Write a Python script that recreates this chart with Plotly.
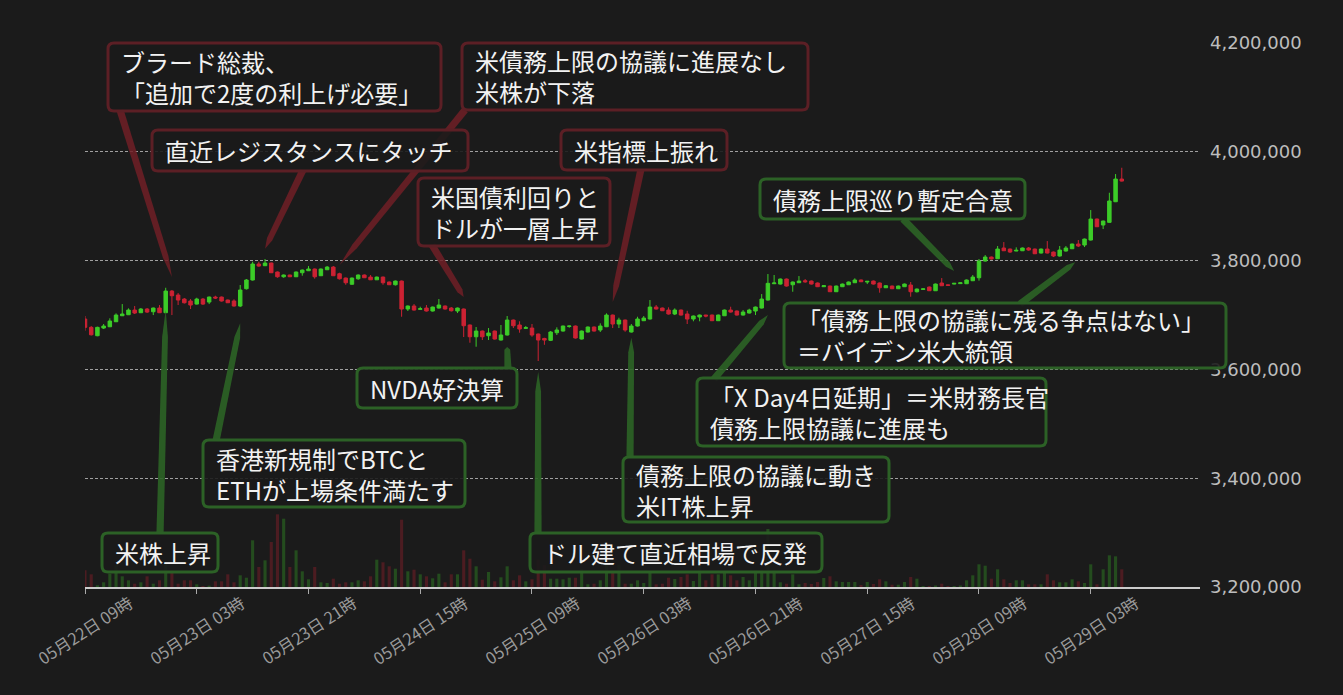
import math
import pandas as pd
import plotly.graph_objects as go

# ---------------- data ----------------
t_start = "2023-05-22 09:00"
times = pd.date_range(start=t_start, periods=168, freq="h")

open_ = [3692600, 3677300, 3661900, 3676000, 3678400, 3687600, 3698600, 3700500, 3709100, 3704200,
         3711000, 3706000, 3712800, 3704200, 3744000, 3736700, 3729300, 3725700, 3720100, 3729300,
         3723800, 3733000, 3733000, 3727500, 3725700, 3716500, 3748300, 3764300, 3793700, 3790600,
         3795500, 3779000, 3770300, 3773500, 3770300, 3777700, 3781400, 3784500, 3772200, 3783200,
         3788100, 3775800, 3767900, 3756500, 3766600, 3773500, 3769700, 3764700, 3769700, 3760600,
         3755600, 3762400, 3711000, 3716500, 3710400, 3712800, 3707300, 3712800, 3716500, 3712800,
         3707300, 3711000, 3681600, 3660000, 3670500, 3661900, 3670500, 3654000, 3663200, 3690700,
         3681600, 3675500, 3676000, 3665000, 3656900, 3653400, 3667400, 3670500, 3678800, 3679700,
         3655800, 3668700, 3677900, 3672400, 3678400, 3699900, 3683400, 3690700, 3668700, 3679700,
         3689500, 3692600, 3714600, 3712800, 3709100, 3701800, 3709100, 3701800, 3692600, 3696300,
         3699900, 3699900, 3689500, 3698600, 3709100, 3707300, 3699900, 3703600, 3707300, 3712800,
         3727500, 3757500, 3756900, 3766100, 3755600, 3759300, 3763000, 3762400, 3758800, 3752000,
         3753200, 3742800, 3752000, 3755600, 3759300, 3764300, 3760600, 3762400, 3758800, 3750100,
         3753200, 3748300, 3752000, 3755100, 3742800, 3747100, 3751400, 3744600, 3758800, 3755400,
         3756900, 3757700, 3757500, 3763000, 3768500, 3799200, 3806500, 3803400, 3823100, 3821200,
         3817600, 3818100, 3823100, 3821200, 3813900, 3821200, 3815700, 3808400, 3817600, 3821800,
         3830400, 3828600, 3837800, 3876400, 3865400, 3870300, 3908200, 3949900]
high = [3698100, 3679700, 3678500, 3683400, 3693900, 3703000, 3720100, 3712200, 3716500, 3712800,
        3712800, 3713700, 3718300, 3750100, 3745900, 3740400, 3731200, 3729300, 3731700, 3731200,
        3733900, 3735400, 3733900, 3728400, 3728800, 3755100, 3766100, 3797900, 3797900, 3802900,
        3796400, 3779900, 3774400, 3774000, 3779900, 3783600, 3790000, 3785400, 3785400, 3790000,
        3790000, 3777700, 3768900, 3768900, 3774400, 3774400, 3773500, 3770700, 3770700, 3761500,
        3763300, 3763300, 3717400, 3720100, 3715200, 3718300, 3715500, 3729300, 3717400, 3714600,
        3713700, 3711900, 3682500, 3677900, 3671400, 3676000, 3671400, 3681600, 3698100, 3691600,
        3688400, 3679700, 3683400, 3665900, 3658100, 3670500, 3677300, 3680600, 3680600, 3680600,
        3671400, 3678800, 3678800, 3684700, 3703000, 3700800, 3695000, 3691600, 3683400, 3696800,
        3698100, 3727500, 3718300, 3713700, 3714100, 3712200, 3710100, 3707800, 3699000, 3700800,
        3700400, 3700800, 3700800, 3710000, 3715200, 3708200, 3709100, 3711500, 3715500, 3738500,
        3775300, 3773500, 3767000, 3767000, 3761500, 3771600, 3766100, 3763300, 3759700, 3754700,
        3754100, 3754100, 3757800, 3761500, 3767400, 3765200, 3762400, 3763300, 3759700, 3754700,
        3754100, 3754100, 3757800, 3760600, 3748700, 3748700, 3752300, 3757800, 3767900, 3755800,
        3758800, 3759700, 3765200, 3773500, 3802900, 3810200, 3807400, 3826800, 3834100, 3822200,
        3824400, 3824000, 3824900, 3822200, 3822200, 3835900, 3816600, 3826800, 3826800, 3831300,
        3837800, 3840500, 3892900, 3877300, 3873600, 3924700, 3959100, 3970700]
low = [3671100, 3662200, 3661000, 3674200, 3677800, 3687100, 3698100, 3699900, 3701800, 3703600,
       3703600, 3699900, 3703600, 3703600, 3699900, 3718300, 3721100, 3711000, 3719200, 3718300,
       3720100, 3729300, 3724700, 3722000, 3715500, 3714600, 3746800, 3763300, 3788700, 3790000,
       3777100, 3768500, 3768500, 3769700, 3769700, 3772200, 3780800, 3766800, 3771600, 3782600,
       3771600, 3765200, 3755600, 3755600, 3764700, 3767900, 3764300, 3764300, 3755600, 3755100,
       3754200, 3696800, 3707300, 3708200, 3710000, 3706400, 3706400, 3711900, 3710100, 3706400,
       3703600, 3659500, 3649000, 3641700, 3654000, 3654000, 3654900, 3653100, 3662300, 3676000,
       3667400, 3674200, 3660000, 3615400, 3645200, 3652100, 3663200, 3669600, 3676600, 3656700,
       3654900, 3667800, 3669600, 3668700, 3677800, 3676000, 3676000, 3669200, 3667800, 3678800,
       3688900, 3691600, 3710100, 3707300, 3700800, 3699900, 3699000, 3683400, 3688400, 3688400,
       3695700, 3688900, 3688900, 3698100, 3704500, 3699000, 3699000, 3702700, 3699900, 3711900,
       3726600, 3756900, 3756000, 3752300, 3742800, 3758800, 3759300, 3756000, 3751400, 3751400,
       3742200, 3742200, 3751400, 3755100, 3758800, 3760600, 3756900, 3756000, 3741000, 3749600,
       3747700, 3747700, 3751400, 3733600, 3741300, 3746800, 3744100, 3744100, 3753200, 3754100,
       3756400, 3757300, 3756900, 3762400, 3763100, 3798300, 3801900, 3802900, 3817600, 3813900,
       3817200, 3817600, 3818100, 3812000, 3813000, 3813000, 3806500, 3807400, 3816600, 3821200,
       3824900, 3824900, 3836900, 3861700, 3858000, 3869600, 3907600, 3945300]
close = [3677300, 3663700, 3677300, 3679700, 3688900, 3699900, 3701800, 3709100, 3703600, 3711000,
         3705400, 3712800, 3704200, 3744000, 3735400, 3727500, 3722500, 3718300, 3729300, 3720100,
         3733000, 3731200, 3725700, 3722500, 3716500, 3745900, 3764300, 3793700, 3790000, 3795500,
         3777700, 3770300, 3773500, 3770300, 3779000, 3782600, 3784500, 3770300, 3784500, 3788100,
         3772200, 3766600, 3759300, 3767900, 3773500, 3768500, 3764700, 3769700, 3759300, 3755600,
         3762400, 3711000, 3716500, 3709100, 3711500, 3707300, 3714600, 3718300, 3711000, 3707800,
         3712800, 3680300, 3660000, 3670500, 3660000, 3666900, 3655800, 3663200, 3690700, 3680300,
         3674200, 3676600, 3663200, 3654000, 3653900, 3668700, 3672400, 3679700, 3679700, 3657700,
         3670500, 3677900, 3670500, 3679700, 3699900, 3683400, 3690700, 3672400, 3679700, 3692600,
         3694400, 3714600, 3711000, 3707800, 3701800, 3709100, 3699900, 3692600, 3698100, 3699900,
         3698100, 3689500, 3699900, 3709100, 3705400, 3699900, 3705400, 3709100, 3714600, 3729300,
         3758200, 3758800, 3766100, 3753200, 3760600, 3762400, 3761100, 3756900, 3752000, 3753800,
         3742800, 3753200, 3756900, 3760600, 3764300, 3761100, 3761900, 3756900, 3750100, 3753800,
         3748300, 3753200, 3756900, 3742800, 3747700, 3748000, 3744600, 3756900, 3753800, 3754500,
         3758200, 3759100, 3764300, 3769700, 3799100, 3806500, 3802900, 3821200, 3818100, 3815700,
         3818900, 3823100, 3819400, 3812600, 3821200, 3813900, 3808400, 3819400, 3823100, 3830400,
         3826800, 3839600, 3876400, 3862200, 3872700, 3909500, 3949900, 3946200]
volume = [167, 127, 17, 47, 133, 217, 107, 67, 33, 47,
          107, 33, 67, 233, 167, 33, 67, 67, 27, 10,
          13, 57, 57, 127, 47, 117, 93, 467, 200, 267,
          450, 727, 683, 200, 367, 157, 77, 200, 47, 40,
          83, 33, 47, 47, 67, 57, 107, 273, 247, 207,
          183, 673, 157, 173, 127, 107, 87, 133, 47, 127,
          127, 367, 283, 207, 73, 150, 57, 97, 207, 67,
          117, 57, 77, 273, 217, 83, 83, 77, 93, 93,
          177, 27, 33, 67, 223, 157, 223, 33, 33, 67,
          40, 140, 27, 33, 93, 80, 100, 127, 60, 220,
          67, 127, 127, 150, 117, 67, 100, 67, 167, 167,
          580, 167, 47, 33, 127, 27, 40, 30, 50, 90,
          107, 57, 50, 50, 50, 20, 50, 30, 77, 57,
          23, 23, 50, 100, 83, 10, 10, 15, 33, 10,
          10, 15, 67, 117, 227, 213, 83, 177, 77, 40,
          67, 67, 27, 27, 27, 127, 67, 47, 47, 77,
          57, 40, 227, 27, 177, 317, 307, 177]

tick_times = ["2023-05-22 09:00", "2023-05-23 03:00", "2023-05-23 21:00", "2023-05-24 15:00",
              "2023-05-25 09:00", "2023-05-26 03:00", "2023-05-26 21:00", "2023-05-27 15:00",
              "2023-05-28 09:00", "2023-05-29 03:00"]
tick_labels = ["05月22日 09時", "05月23日 03時", "05月23日 21時", "05月24日 15時", "05月25日 09時",
               "05月26日 03時", "05月26日 21時", "05月27日 15時", "05月28日 09時", "05月29日 03時"]
price_ticks = [3200000, 3400000, 3600000, 3800000, 4000000, 4200000]

note_texts = [
    "ブラード総裁、<br>「追加で2度の利上げ必要」",
    "直近レジスタンスにタッチ",
    "米債務上限の協議に進展なし<br>米株が下落",
    "米国債利回りと<br>ドルが一層上昇",
    "米指標上振れ",
    "米株上昇",
    "香港新規制でBTCと<br>ETHが上場条件満たす",
    "NVDA好決算",
    "ドル建て直近相場で反発",
    "債務上限の協議に動き<br>米IT株上昇",
    "「X Day4日延期」＝米財務長官<br>債務上限協議に進展も",
    "「債務上限の協議に残る争点はない」<br>＝バイデン米大統領",
    "債務上限巡り暫定合意",
]
note_kind = ["down", "down", "down", "down", "down", "up", "up", "up", "up", "up", "up", "up", "up"]
note_target_time = ["2023-05-22 23:00", "2023-05-23 14:00", "2023-05-24 02:00", "2023-05-24 22:00",
                    "2023-05-25 22:00", "2023-05-22 22:00", "2023-05-23 10:00", "2023-05-25 05:00",
                    "2023-05-25 10:00", "2023-05-26 01:00", "2023-05-26 23:00", "2023-05-29 00:30",
                    "2023-05-28 05:00"]
note_target_price = [3770000, 3822000, 3792000, 3733000, 3724000, 3709000, 3685000, 3641000,
                     3595000, 3658000, 3700000, 3797000, 3781000]

# ---------------- layout geometry (pixels) ----------------
W, H = 1343, 695
PL, PR, PT, PB = 85, 1200, 43, 587
Y_MIN, Y_MAX = 3200000, 4200000
t0 = pd.Timestamp(t_start)
SPAN_H = 179.6
t_end = t0 + pd.Timedelta(hours=SPAN_H)

# box rectangles (x0, y0, x1, y1) and arrow base points in pixel space
note_boxes = [(108, 43, 441, 111), (152, 130, 468, 171), (462, 43, 808, 110), (418, 178, 610, 246),
              (561, 130, 727, 170), (102, 533, 218, 572), (203, 440, 465, 507), (357, 368, 517, 408),
              (530, 533, 822, 572), (623, 457, 889, 522), (697, 378, 1046, 446), (784, 303, 1226, 368),
              (760, 179, 1025, 219)]
note_bases = [(120, 110), (303, 170), (465, 110), (432, 245), (641, 169), (160, 534), (216, 441),
              (508, 369), (538, 534), (630, 458), (714, 379), (1020, 304), (903, 219)]

BG = "#1b1b1b"
UP = "#3ccc28"
DOWN = "#cc2233"
BORDER = {"down": "#5c1f25", "up": "#2c6126"}
WEDGE = {"down": "rgba(112,30,38,0.85)", "up": "rgba(44,100,38,0.9)"}


def px_to_paper(x, y):
    return (x - PL) / (PR - PL), (PB - y) / (PB - PT)


def data_to_px(t, p):
    hours = (pd.Timestamp(t) - t0) / pd.Timedelta(hours=1)
    x = PL + hours * (PR - PL) / SPAN_H
    y = PB - (p - Y_MIN) / (Y_MAX - Y_MIN) * (PB - PT)
    return x, y


def path_from(points, close_path=True):
    parts = []
    for k, (x, y) in enumerate(points):
        px, py = px_to_paper(x, y)
        parts.append(("M" if k == 0 else "L") + f" {px:.5f},{py:.5f}")
    return " ".join(parts) + (" Z" if close_path else "")


def rounded_rect(x0, y0, x1, y1, r=6):
    def P(x, y):
        a, b = px_to_paper(x, y)
        return f"{a:.5f},{b:.5f}"
    return (f"M {P(x0 + r, y0)} L {P(x1 - r, y0)} Q {P(x1, y0)} {P(x1, y0 + r)} "
            f"L {P(x1, y1 - r)} Q {P(x1, y1)} {P(x1 - r, y1)} L {P(x0 + r, y1)} "
            f"Q {P(x0, y1)} {P(x0, y1 - r)} L {P(x0, y0 + r)} Q {P(x0, y0)} {P(x0 + r, y0)} Z")


def wedge(bx, by, tx, ty, hw=3.6):
    dx, dy = tx - bx, ty - by
    L = math.hypot(dx, dy)
    ux, uy = dx / L, dy / L
    nx, ny = -uy, ux
    m = 0.88
    mx, my = bx + ux * L * m, by + uy * L * m
    pts = [(bx + nx * hw, by + ny * hw), (mx + nx * hw * 0.8, my + ny * hw * 0.8), (tx, ty),
           (mx - nx * hw * 0.8, my - ny * hw * 0.8), (bx - nx * hw, by - ny * hw)]
    return path_from(pts)


# ---------------- traces ----------------
vol_colors = ["rgba(60,204,40,0.28)" if c >= o else "rgba(204,34,51,0.28)" for o, c in zip(open_, close)]

fig = go.Figure()
fig.add_trace(go.Bar(
    x=times, y=volume, yaxis="y2", marker=dict(color=vol_colors, line=dict(width=0)),
    width=0.5 * 3600 * 1000, hoverinfo="skip", showlegend=False,
))
fig.add_trace(go.Candlestick(
    x=times, open=open_, high=high, low=low, close=close,
    increasing=dict(line=dict(color=UP, width=1), fillcolor=UP),
    decreasing=dict(line=dict(color=DOWN, width=1), fillcolor=DOWN),
    whiskerwidth=0, showlegend=False,
))

shapes = []
annotations = []
for text, kind, tt, tp, box, base in zip(note_texts, note_kind, note_target_time, note_target_price,
                                         note_boxes, note_bases):
    tx, ty = data_to_px(tt, tp)
    shapes.append(dict(type="path", xref="paper", yref="paper", path=wedge(base[0], base[1], tx, ty),
                       fillcolor=WEDGE[kind], line=dict(width=0), layer="above"))
for text, kind, box in zip(note_texts, note_kind, note_boxes):
    x0, y0, x1, y1 = box
    shapes.append(dict(type="path", xref="paper", yref="paper", path=rounded_rect(x0, y0, x1, y1),
                       fillcolor="rgba(27,27,27,0.9)", line=dict(color=BORDER[kind], width=3),
                       layer="above"))
    ax, ay = px_to_paper(x0 + 11, (y0 + y1) / 2)
    annotations.append(dict(text=text, xref="paper", yref="paper", x=ax, y=ay, xanchor="left",
                            yanchor="middle", align="left", showarrow=False,
                            font=dict(family="Noto Sans CJK JP", size=24, color="#f2f2f2")))

for tt, lab in zip(tick_times, tick_labels):
    annotations.append(dict(text=lab, x=tt, xref="x", y=0, yref="paper", yshift=-43,
                            xanchor="center", yanchor="middle", textangle=-33, showarrow=False,
                            font=dict(family="Noto Sans CJK JP", size=16.5, color="#9a9a9a")))

fig.update_layout(
    width=W, height=H, autosize=False,
    margin=dict(l=PL, r=W - PR, t=PT, b=H - PB, pad=0),
    paper_bgcolor=BG, plot_bgcolor=BG,
    showlegend=False, boxgap=0.2,
    shapes=shapes, annotations=annotations,
    xaxis=dict(type="date", range=[t0, t_end], showgrid=False, zeroline=False,
               tickvals=tick_times, showticklabels=False, ticks="outside", ticklen=5,
               tickcolor="#aaaaaa", tickwidth=1, showline=True, linecolor="#cccccc", linewidth=2,
               rangeslider=dict(visible=False)),
    yaxis=dict(side="right", range=[Y_MIN, Y_MAX], tickvals=price_ticks, tickformat=",d",
               showgrid=True, gridcolor="#a0a0a0", gridwidth=1, griddash="3px,2px",
               zeroline=False, showline=False, ticks="", ticklabelstandoff=9,
               tickfont=dict(family="DejaVu Sans", size=18, color="#bdbdbd")),
    yaxis2=dict(overlaying="y", range=[0, 5440], visible=False, fixedrange=True),
)

fig.write_html("out.html", config={"displayModeBar": False},
               post_script="document.body.style.margin='0';")
